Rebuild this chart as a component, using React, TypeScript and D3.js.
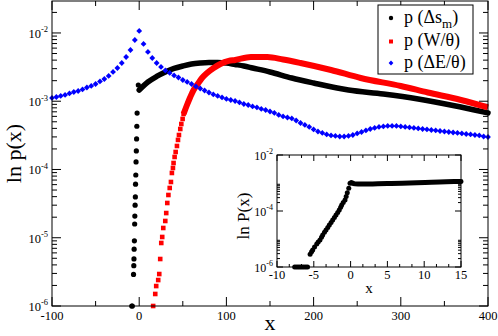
import React from "react";
import * as d3 from "d3";

const FONT = "'Liberation Serif', 'Times New Roman', Times, serif";

// ---- axis ticks ----
const mainXTicks = [-100, 0, 100, 200, 300, 400];
const mainXMinor = [-50, 50, 150, 250, 350];
const mainYExps = [-6, -5, -4, -3, -2];
const insetXTicks = [-10, -5, 0, 5, 10, 15];
const insetYExps = [-6, -4, -2];

// ---- legend ----
const legendLabels = ["p (\u0394s", "p (W/\u03b8)", "p (\u0394E/\u03b8)"];

// ---- p(Δs_m): black ----
const blackColX = [-8.5, -7.9, -6.5, -6.2, -6.0, -5.8, -5.5, -5.2, -5.0, -4.7, -4.4, -4.2, -3.9, -3.6, -3.3, -3.0, -2.7, -2.4, -1.0];
const blackColP = [1e-6, 1e-6, 2.9e-6, 3.9e-6, 4.9e-6, 6.8e-6, 9.0e-6, 1.59e-5, 2.08e-5, 3.0e-5, 3.96e-5, 6.1e-5, 8.3e-5, 1.29e-4, 1.87e-4, 2.8e-4, 4.3e-4, 6.7e-4, 1.73e-3];
const blackCurveX = [0, 10, 20, 30, 40, 50, 60, 70, 80, 90, 100, 110, 120, 130, 150, 175, 200, 240, 280, 320, 360, 400];
const blackCurveP = [1.46e-3, 1.91e-3, 2.305e-3, 2.684e-3, 3.02e-3, 3.28e-3, 3.51e-3, 3.634e-3, 3.70e-3, 3.70e-3, 3.634e-3, 3.455e-3, 3.28e-3, 3.07e-3, 2.684e-3, 2.19e-3, 1.851e-3, 1.46e-3, 1.277e-3, 1.079e-3, 8.66e-4, 6.73e-4];

// ---- p(W/θ): red ----
const redSqX = [16, 18.4, 19.5, 21.8, 23, 24.1, 25.3, 26.4, 27.6, 29.9, 31, 32.2, 33.5, 35.0, 36.4, 37.5, 38.7, 39.4, 40.6, 41.8, 43.3, 44.5, 45.6, 47.1, 48.3, 49.8, 50.9];
const redSqP = [1e-6, 1.5e-6, 1.96e-6, 2.4e-6, 2.94e-6, 4.88e-6, 8.38e-6, 1.026e-5, 1.39e-5, 1.76e-5, 2.3e-5, 3.23e-5, 4.23e-5, 5.36e-5, 6.56e-5, 8.89e-5, 1.052e-4, 1.245e-4, 1.525e-4, 1.805e-4, 2.21e-4, 2.71e-4, 3.2e-4, 3.92e-4, 4.64e-4, 5.5e-4, 6.51e-4];
const redLineX = [50.9, 54.8, 58.6, 62.4, 66.3, 72, 77.8, 85.4, 93.1, 102.6, 110, 128, 147, 165, 185, 220, 254, 300, 331, 369, 400];
const redLineP = [6.51e-4, 8.81e-4, 1.154e-3, 1.462e-3, 1.73e-3, 2.19e-3, 2.594e-3, 3.07e-3, 3.51e-3, 3.89e-3, 4.02e-3, 4.45e-3, 4.45e-3, 4.09e-3, 3.634e-3, 2.87e-3, 2.19e-3, 1.673e-3, 1.343e-3, 1.043e-3, 8.10e-4];

// ---- p(ΔE/θ): blue ----
const blueX = [
  -100, -95, -90, -85, -80, -75, -70, -65, -60, -55,
  -50, -45, -40, -35, -30, -25, -20, -15, -10, -5,
  0, 5, 10, 15, 20, 25, 30, 35, 40, 45,
  50, 55, 60, 65, 70, 75, 80, 85, 90, 95,
  100, 105, 110, 115, 120, 125, 130, 135, 140, 145,
  150, 155, 160, 165, 170, 175, 180, 185, 190, 195,
  200, 205, 210, 215, 220, 225, 230, 235, 240, 245,
  250, 255, 260, 265, 270, 275, 280, 285, 290, 295,
  300, 305, 310, 315, 320, 325, 330, 335, 340, 345,
  350, 355, 360, 365, 370, 375, 380, 385, 390, 395,
  400,
];
const blueP = [
  1.117e-3, 1.154e-3, 1.194e-3, 1.235e-3, 1.3e-3, 1.366e-3, 1.413e-3, 1.487e-3, 1.59e-3, 1.673e-3,
  1.789e-3, 1.948e-3, 2.118e-3, 2.344e-3, 2.684e-3, 3.07e-3, 3.634e-3, 4.449e-3, 5.634e-3, 7.89e-3,
  1.07e-2, 6.9e-3, 5.27e-3, 4.3e-3, 3.634e-3, 3.18e-3, 2.82e-3, 2.594e-3, 2.384e-3, 2.228e-3,
  2.048e-3, 1.915e-3, 1.789e-3, 1.645e-3, 1.537e-3, 1.437e-3, 1.343e-3, 1.256e-3, 1.194e-3, 1.135e-3,
  1.079e-3, 1.043e-3, 1.008e-3, 9.59e-4, 9.11e-4, 8.81e-4, 8.38e-4, 8.1e-4, 7.7e-4, 7.44e-4,
  7.07e-4, 6.73e-4, 6.29e-4, 5.98e-4, 5.78e-4, 5.59e-4, 5.22e-4, 4.8e-4, 4.49e-4, 4.2e-4,
  3.86e-4, 3.6e-4, 3.43e-4, 3.26e-4, 3.15e-4, 3.1e-4, 3.04e-4, 3.04e-4, 3.1e-4, 3.2e-4,
  3.37e-4, 3.54e-4, 3.73e-4, 3.92e-4, 4.06e-4, 4.2e-4, 4.27e-4, 4.34e-4, 4.34e-4, 4.34e-4,
  4.27e-4, 4.2e-4, 4.13e-4, 4.06e-4, 3.99e-4, 3.92e-4, 3.86e-4, 3.79e-4, 3.73e-4, 3.66e-4,
  3.6e-4, 3.54e-4, 3.48e-4, 3.43e-4, 3.37e-4, 3.31e-4, 3.26e-4, 3.2e-4, 3.15e-4, 3.04e-4,
  2.99e-4,
];

// ---- inset P(x) ----
const insetFloorX = [-7.6, -7.35, -7.1, -6.85, -6.6, -6.35, -6.1, -5.85];
const insetFloorP = [1e-6, 1e-6, 1e-6, 1e-6, 1e-6, 1e-6, 1e-6, 1e-6];
const insetRiseX = [-5.5, -5.3, -5.15, -4.9, -4.6, -4.4, -4.16, -3.95, -3.79, -3.55, -3.34, -3.1, -2.89, -2.65, -2.43, -2.2, -1.98, -1.75, -1.54, -1.35, -1.21, -1.0, -0.76, -0.6, -0.45, -0.25, -0.08];
const insetRiseP = [2.85e-6, 3.5e-6, 4.05e-6, 5.2e-6, 6.6e-6, 7.8e-6, 9.2e-6, 1.15e-5, 1.39e-5, 1.75e-5, 2.09e-5, 2.6e-5, 3.16e-5, 3.9e-5, 4.77e-5, 5.9e-5, 7.2e-5, 8.9e-5, 1.09e-4, 1.35e-4, 1.64e-4, 2.0e-4, 2.47e-4, 3.3e-4, 4.51e-4, 6.5e-4, 9.75e-4];
const insetTopX = [0.1, 0.6, 1, 3, 5, 7, 9, 11, 13, 15];
const insetTopP = [1.03e-3, 9.3e-4, 9.2e-4, 9.3e-4, 9.5e-4, 9.8e-4, 1.02e-3, 1.06e-3, 1.1e-3, 1.14e-3];

// layout
const M = { left: 52, right: 488, top: 1, bottom: 306 };
const Y_TOP = 0.0294;
const IN = { left: 277, right: 461, top: 155, bottom: 267 };

const zip = (xs: number[], ys: number[]) => xs.map((x, i) => [x, ys[i]] as [number, number]);

function diamond(cx: number, cy: number, r: number) {
  return `M${cx},${cy - r}L${cx + r},${cy}L${cx},${cy + r}L${cx - r},${cy}Z`;
}

function Pow10({ x, y, e, size, supSize, anchor }: { x: number; y: number; e: number; size: number; supSize: number; anchor?: string }) {
  return (
    <text x={x} y={y} fontSize={size} fontFamily={FONT} textAnchor={anchor || "end"} fill="#000">
      10
      <tspan fontSize={supSize} dy={-size * 0.45}>{String(e)}</tspan>
    </text>
  );
}

export default function App() {
  const xM = d3.scaleLinear().domain([-100, 400]).range([M.left, M.right]);
  const yM = d3.scaleLog().domain([1e-6, Y_TOP]).range([M.bottom, M.top]);
  const xI = d3.scaleLinear().domain([-10, 15]).range([IN.left, IN.right]);
  const yI = d3.scaleLog().domain([1e-6, 1e-2]).range([IN.bottom, IN.top]);

  const lineM = d3
    .line<[number, number]>()
    .x((d) => xM(d[0]))
    .y((d) => yM(d[1]))
    .curve(d3.curveMonotoneX);
  const lineI = d3
    .line<[number, number]>()
    .x((d) => xI(d[0]))
    .y((d) => yI(d[1]))
    .curve(d3.curveMonotoneX);

  // main y minor ticks
  const mainYMinor: number[] = [];
  for (let e = -6; e <= -2; e++) {
    for (let k = 2; k <= 9; k++) {
      const v = k * Math.pow(10, e);
      if (v < Y_TOP) mainYMinor.push(v);
    }
  }
  const insetYMinor: number[] = [];
  [-6, -4].forEach((e) => {
    for (let k = 2; k <= 9; k++) insetYMinor.push(k * Math.pow(10, e));
  });
  const insetXMinor: number[] = [];
  for (let i = 0; i <= 15; i++) {
    if (i % 3 !== 0) insetXMinor.push(-10 + (i * 5) / 3);
  }

  const tk = "#000";

  return (
    <svg width={498} height={336} style={{ position: "absolute", left: 0, top: 0, background: "#fff" }}>
      <rect x={0} y={0} width={498} height={336} fill="#fff" />

      {/* ===== main ticks ===== */}
      <g stroke={tk} strokeWidth={1}>
        {mainXTicks.map((v) => (
          <g key={"mx" + v}>
            <line x1={xM(v)} x2={xM(v)} y1={M.bottom} y2={M.bottom - 9} />
            <line x1={xM(v)} x2={xM(v)} y1={M.top} y2={M.top + 9} />
          </g>
        ))}
        {mainXMinor.map((v) => (
          <g key={"mxm" + v}>
            <line x1={xM(v)} x2={xM(v)} y1={M.bottom} y2={M.bottom - 5} />
            <line x1={xM(v)} x2={xM(v)} y1={M.top} y2={M.top + 5} />
          </g>
        ))}
        {mainYExps.map((e) => {
          const y = yM(Math.pow(10, e));
          return (
            <g key={"my" + e}>
              <line x1={M.left} x2={M.left + 9} y1={y} y2={y} />
              <line x1={M.right} x2={M.right - 9} y1={y} y2={y} />
            </g>
          );
        })}
        {mainYMinor.map((v, i) => {
          const y = yM(v);
          return (
            <g key={"mym" + i}>
              <line x1={M.left} x2={M.left + 5} y1={y} y2={y} />
              <line x1={M.right} x2={M.right - 5} y1={y} y2={y} />
            </g>
          );
        })}
      </g>

      {/* ===== main series ===== */}
      <path d={lineM(zip(blackCurveX, blackCurveP)) || ""} fill="none" stroke="#000" strokeWidth={5.5} strokeLinecap="round" />
      {zip(blackColX, blackColP).map((d, i) => (
        <circle key={"bc" + i} cx={xM(d[0])} cy={yM(d[1])} r={2.6} fill="#000" />
      ))}

      <path d={lineM(zip(redLineX, redLineP)) || ""} fill="none" stroke="#ff0000" strokeWidth={6} strokeLinecap="butt" />
      {zip(redSqX, redSqP).map((d, i) => (
        <rect key={"rs" + i} x={xM(d[0]) - 2.3} y={yM(d[1]) - 2.3} width={4.6} height={4.6} fill="#ff0000" />
      ))}

      {zip(blueX, blueP).map((d, i) => (
        <path key={"bl" + i} d={diamond(xM(d[0]), yM(d[1]), 2.9)} fill="#0000ff" />
      ))}

      {/* main frame */}
      <rect x={M.left} y={M.top} width={M.right - M.left} height={M.bottom - M.top} fill="none" stroke="#000" strokeWidth={1} />

      {/* main tick labels */}
      {mainXTicks.map((v) => (
        <text key={"mxl" + v} x={xM(v)} y={320} fontSize={12.5} fontFamily={FONT} textAnchor="middle">
          {String(v)}
        </text>
      ))}
      {mainYExps.map((e) => (
        <Pow10 key={"myl" + e} x={48} y={yM(Math.pow(10, e)) + 5} e={e} size={12.5} supSize={8.5} />
      ))}

      {/* axis titles */}
      <text x={270} y={330} fontSize={22} fontFamily={FONT} textAnchor="middle">x</text>
      <text transform={`translate(21,${(M.top + M.bottom) / 2}) rotate(-90)`} fontSize={22} fontFamily={FONT} textAnchor="middle">
        ln p(x)
      </text>

      {/* ===== legend ===== */}
      <rect x={378} y={5} width={95} height={69} fill="#fff" stroke="#000" strokeWidth={1} />
      <circle cx={391} cy={18} r={2.2} fill="#000" />
      <rect x={389} y={39.5} width={4} height={4} fill="#ff0000" />
      <path d={diamond(391, 63, 2.4)} fill="#0000ff" />
      <text x={404} y={23} fontSize={18} fontFamily={FONT}>
        {legendLabels[0]}
        <tspan fontSize={13} dy={5}>m</tspan>
        <tspan dy={-5}>)</tspan>
      </text>
      <text x={404} y={46} fontSize={18} fontFamily={FONT}>{legendLabels[1]}</text>
      <text x={404} y={68} fontSize={18} fontFamily={FONT}>{legendLabels[2]}</text>

      {/* ===== inset ===== */}
      <rect x={IN.left} y={IN.top} width={IN.right - IN.left} height={IN.bottom - IN.top} fill="#fff" stroke="none" />
      <g stroke={tk} strokeWidth={1}>
        {insetXTicks.map((v) => (
          <g key={"ix" + v}>
            <line x1={xI(v)} x2={xI(v)} y1={IN.bottom} y2={IN.bottom - 6} />
            <line x1={xI(v)} x2={xI(v)} y1={IN.top} y2={IN.top + 6} />
          </g>
        ))}
        {insetXMinor.map((v, i) => (
          <g key={"ixm" + i}>
            <line x1={xI(v)} x2={xI(v)} y1={IN.bottom} y2={IN.bottom - 3} />
            <line x1={xI(v)} x2={xI(v)} y1={IN.top} y2={IN.top + 3} />
          </g>
        ))}
        {insetYExps.map((e) => {
          const y = yI(Math.pow(10, e));
          return (
            <g key={"iy" + e}>
              <line x1={IN.left} x2={IN.left + 6} y1={y} y2={y} />
              <line x1={IN.right} x2={IN.right - 6} y1={y} y2={y} />
            </g>
          );
        })}
        {insetYMinor.map((v, i) => {
          const y = yI(v);
          return (
            <g key={"iym" + i}>
              <line x1={IN.left} x2={IN.left + 3} y1={y} y2={y} />
              <line x1={IN.right} x2={IN.right - 3} y1={y} y2={y} />
            </g>
          );
        })}
      </g>
      <path d={lineI(zip(insetTopX, insetTopP)) || ""} fill="none" stroke="#000" strokeWidth={5} strokeLinecap="round" />
      {zip(insetFloorX, insetFloorP).map((d, i) => (
        <circle key={"if" + i} cx={xI(d[0])} cy={yI(d[1])} r={2.5} fill="#000" />
      ))}
      {zip(insetRiseX, insetRiseP).map((d, i) => (
        <circle key={"ir" + i} cx={xI(d[0])} cy={yI(d[1])} r={2.5} fill="#000" />
      ))}
      <rect x={IN.left} y={IN.top} width={IN.right - IN.left} height={IN.bottom - IN.top} fill="none" stroke="#000" strokeWidth={1} />
      {insetXTicks.map((v) => (
        <text key={"ixl" + v} x={xI(v)} y={279} fontSize={12.5} fontFamily={FONT} textAnchor="middle">
          {String(v)}
        </text>
      ))}
      {insetYExps.map((e) => (
        <Pow10 key={"iyl" + e} x={273} y={yI(Math.pow(10, e)) + 4.5} e={e} size={12} supSize={8} />
      ))}
      <text x={369} y={293} fontSize={15} fontFamily={FONT} textAnchor="middle">x</text>
      <text transform={`translate(249,216) rotate(-90)`} fontSize={17} fontFamily={FONT} textAnchor="middle">
        ln P(x)
      </text>
    </svg>
  );
}
